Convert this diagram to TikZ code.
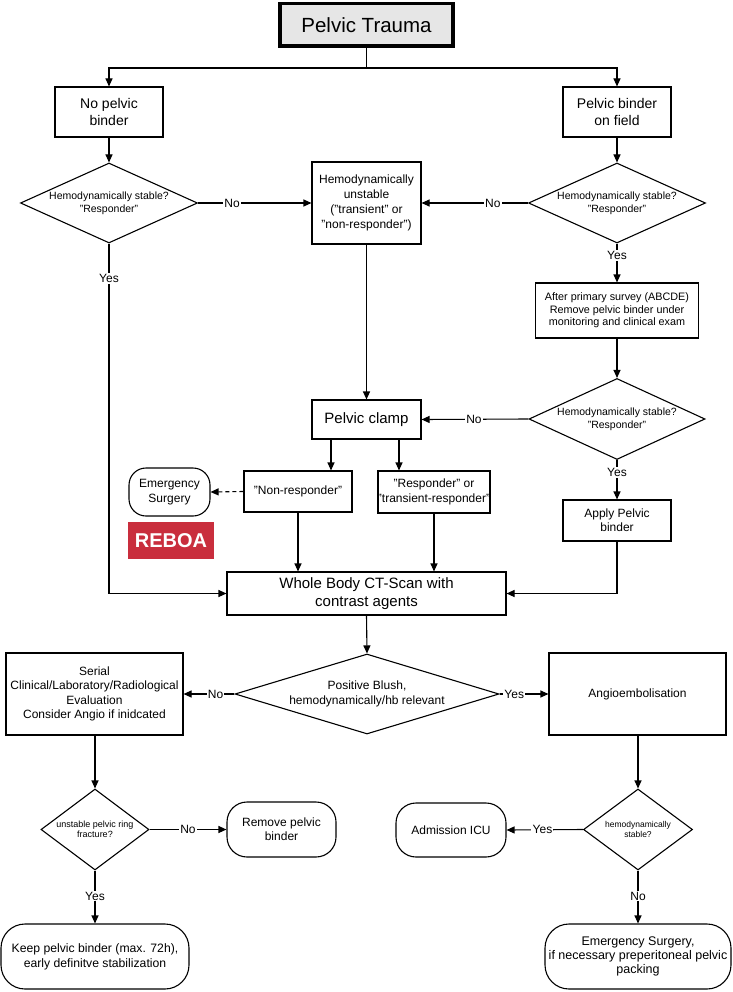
\documentclass[tikz,border=0pt]{standalone}
\usepackage{fontspec}
\setmainfont{Liberation Sans}
\usetikzlibrary{shapes.geometric,arrows.meta,calc}
\newcommand{\fsz}[2]{\fontsize{#1}{#2}\selectfont}
\definecolor{reboared}{RGB}{201,46,61}
\definecolor{traumagray}{RGB}{230,230,230}
\begin{document}
\begin{tikzpicture}[x=1pt,y=-1pt,
  every node/.style={font=\fsz{12}{14.5}},
  box/.style={draw, line width=1.1pt, inner sep=0pt, align=center, fill=white},
  rbox/.style={box, rounded corners=#1}, rbox/.default=18pt,
  dia/.style={draw, diamond, line width=1.1pt, inner sep=0pt, fill=white},
  dtext/.style={align=center, inner sep=0pt},
  arr/.style={line width=1.1pt, -{Triangle[length=8pt,width=7pt]}},
  plain/.style={line width=1.1pt},
  lbl/.style={fill=white, inner sep=1.2pt, font=\fsz{12}{14}},
]
\useasboundingbox (0,0) rectangle (732,992);

% nodes
\node[box, line width=3.8pt, fill=traumagray, minimum width=173pt, minimum height=42.5pt, font=\fsz{20.5}{24}] (trauma) at (366.5,24.7) {Pelvic Trauma};
\node[box, minimum width=108pt, minimum height=50pt, font=\fsz{14}{17.5}] (nobinder) at (109,112) {No pelvic\\binder};
\node[box, minimum width=108pt, minimum height=50pt, font=\fsz{14}{17.5}] (binder) at (617,112) {Pelvic binder\\on field};

\node[dia, minimum width=177pt, minimum height=80pt,
  label={[dtext, font=\fsz{10.5}{13}]center:Hemodynamically stable?\\"Responder"}] (d1) at (109,203) {};
\node[dia, minimum width=177pt, minimum height=80pt,
  label={[dtext, font=\fsz{10.5}{13}]center:Hemodynamically stable?\\"Responder"}] (d2) at (617,203) {};
\node[box, minimum width=109pt, minimum height=82pt, font=\fsz{12}{15}] (unstable) at (366.5,203) {Hemodynamically\\unstable\\("transient" or\\"non-responder")};

\node[box, minimum width=163pt, minimum height=55pt, font=\fsz{10.8}{12.7}] (survey) at (617,310.5) {After primary survey (ABCDE)\\Remove pelvic binder under\\monitoring and clinical exam};
\node[dia, minimum width=176pt, minimum height=81pt,
  label={[dtext, font=\fsz{10.5}{13}]center:Hemodynamically stable?\\"Responder"}] (d3) at (617,419) {};
\node[box, minimum width=109pt, minimum height=39pt, font=\fsz{15}{18}] (clamp) at (366.5,419.5) {Pelvic clamp};

\node[box, minimum width=108pt, minimum height=41pt] (nonresp) at (298,491.5) {"Non-responder"};
\node[box, minimum width=108pt, minimum height=42pt, font=\fsz{12}{14.3}] (resp) at (434,492) {"Responder" or\\"transient-responder"};
\node[rbox=17pt, minimum width=81pt, minimum height=48pt, font=\fsz{12}{14.3}] (emsurg) at (169.5,492) {Emergency\\Surgery};
\node[fill=reboared, text=white, inner sep=0pt, minimum width=86pt, minimum height=37pt, font=\fsz{20}{24}\bfseries] (reboa) at (171,540.5) {REBOA};
\node[box, minimum width=108pt, minimum height=41pt, font=\fsz{12}{14}] (apply) at (617,520.5) {Apply Pelvic\\binder};

\node[box, minimum width=279pt, minimum height=43pt, font=\fsz{15}{17.7}] (ct) at (366.5,593.5) {Whole Body CT-Scan with\\contrast agents};
\node[dia, minimum width=264pt, minimum height=80pt,
  label={[dtext, font=\fsz{12}{15}]center:Positive Blush,\\hemodynamically/hb relevant}] (d4) at (367,694) {};
\node[box, minimum width=177pt, minimum height=82pt, font=\fsz{12}{14.5}] (serial) at (94.5,694) {Serial\\Clinical/Laboratory/Radiological\\Evaluation\\Consider Angio if inidcated};
\node[box, minimum width=177pt, minimum height=82pt] (angio) at (637.5,694) {Angioembolisation};

\node[dia, minimum width=108pt, minimum height=81pt,
  label={[dtext, font=\fsz{9}{10.5}]center:unstable pelvic ring\\fracture?}] (d5) at (95,829.5) {};
\node[rbox=20pt, minimum width=109pt, minimum height=55pt, font=\fsz{12}{14.3}] (remove) at (281.5,829.5) {Remove pelvic\\binder};
\node[rbox=24pt, minimum width=188pt, minimum height=65pt, font=\fsz{12.2}{15}] (keep) at (95,956.5) {Keep pelvic binder (max. 72h),\\early definitve stabilization};

\node[dia, minimum width=109pt, minimum height=81pt,
  label={[dtext, font=\fsz{8.5}{10}]center:hemodynamically\\stable?}] (d6) at (638,829.5) {};
\node[rbox=20pt, minimum width=110pt, minimum height=54pt] (icu) at (451,830) {Admission ICU};
\node[rbox=24pt, minimum width=186pt, minimum height=65pt, font=\fsz{12.5}{14}] (emsurg2) at (638,956.5) {Emergency Surgery,\\if necessary preperitoneal pelvic\\packing};

% connectors
\coordinate (split) at (366.5,68);
\draw[plain] (trauma.south) -- (split);
\draw[arr] (split) -| (nobinder.north);
\draw[arr] (split) -| (binder.north);
\draw[arr] (nobinder) -- (d1);
\draw[arr] (binder) -- (d2);
\draw[arr] (d1.east) -- node[lbl, pos=0.30] {No} (unstable.west);
\draw[arr] (d2.west) -- node[lbl, pos=0.33] {No} (unstable.east);
\draw[arr] (d1.south) |- node[lbl, pos=0.05] {Yes} (ct.west);
\draw[arr] (d2.south) -- node[lbl, pos=0.30] {Yes} (survey.north);
\draw[arr] (survey.south) -- (d3.north);
\draw[arr] (d3.west) -- node[lbl, pos=0.51] {No} (clamp.east);
\draw[arr] (unstable.south) -- (clamp.north);
\draw[arr] ([xshift=-35.5pt]clamp.south) -- ([xshift=-35.5pt]clamp.south |- nonresp.north);
\draw[arr] ([xshift=32.5pt]clamp.south) -- ([xshift=32.5pt]clamp.south |- resp.north);
\draw[line width=1.1pt, dash pattern=on 4pt off 3pt, -{Triangle[length=8pt,width=7pt]}] (nonresp.west) -- (emsurg.east);
\draw[arr] (nonresp.south) -- (nonresp.south |- ct.north);
\draw[arr] (resp.south) -- (resp.south |- ct.north);
\draw[arr] (d3.south) -- node[lbl, pos=0.32] {Yes} (apply.north);
\draw[arr] (apply.south) |- (ct.east);
\draw[arr] (ct.south) -- (d4.north);
\draw[arr] (d4.west) -- node[lbl, pos=0.37] {No} (serial.east);
\draw[arr] (d4.east) -- node[lbl, pos=0.30] {Yes} (angio.west);
\draw[arr] (serial.south -| d5.north) -- (d5.north);
\draw[arr] (d5.east) -- node[lbl, pos=0.5] {No} (remove.west);
\draw[arr] (d5.south) -- node[lbl, pos=0.48] {Yes} (keep.north);
\draw[arr] (angio.south -| d6.north) -- (d6.north);
\draw[arr] (d6.west) -- node[lbl, pos=0.53] {Yes} (icu.east);
\draw[arr] (d6.south) -- node[lbl, pos=0.48] {No} (emsurg2.north);
\end{tikzpicture}
\end{document}
